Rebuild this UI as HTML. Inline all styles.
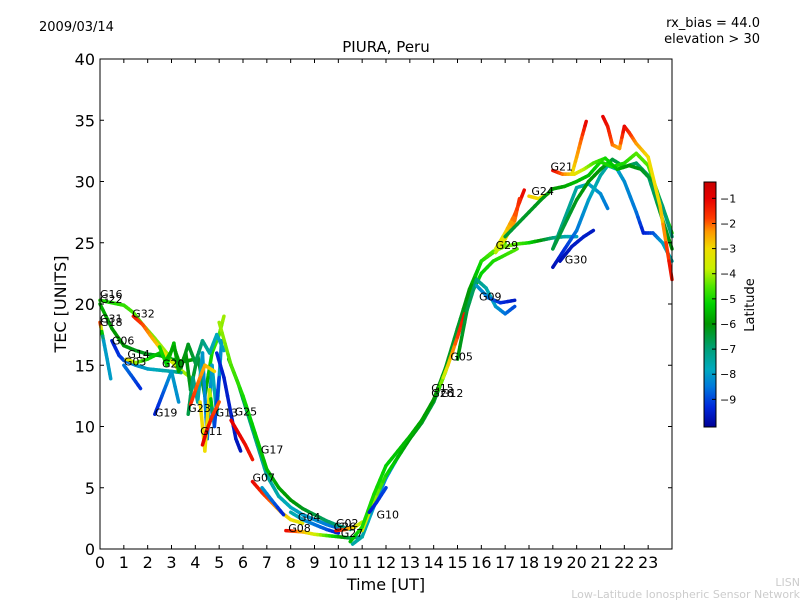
<!DOCTYPE html>
<html><head><meta charset="utf-8"><style>
body{margin:0;background:#fff;font-family:"Liberation Sans",sans-serif}
svg text{font-family:"DejaVu Sans","Liberation Sans",sans-serif}
</style></head><body>
<svg id="c" width="800" height="600" xmlns="http://www.w3.org/2000/svg">
<rect width="800" height="600" fill="#fff"/>
<g id="plot"></g>
<g id="axes"></g>
<g id="labels"></g>
<g id="cbar"></g>
<text x="39" y="31" font-size="13">2009/03/14</text>
<text x="760" y="27" font-size="13" text-anchor="end">rx_bias = 44.0</text>
<text x="760" y="43" font-size="13" text-anchor="end">elevation &gt; 30</text>
<text x="386" y="52" font-size="15" text-anchor="middle">PIURA, Peru</text>
<text x="386" y="590" font-size="16" text-anchor="middle">Time [UT]</text>
<text x="66" y="304" font-size="16" text-anchor="middle" transform="rotate(-90 66 304)">TEC [UNITS]</text>
<text x="754" y="305" font-size="13" text-anchor="middle" transform="rotate(-90 754 305)">Latitude</text>
<text x="800" y="586" font-size="11" fill="#ccc" text-anchor="end">LISN</text>
<text x="800" y="598" font-size="11" fill="#ccc" text-anchor="end">Low-Latitude Ionospheric Sensor Network</text>
</svg>
<script>
const xTicks=[0,1,2,3,4,5,6,7,8,9,10,11,12,13,14,15,16,17,18,19,20,21,22,23];
const yTicks=[0,5,10,15,20,25,30,35,40];
const cbTicks=[-1,-2,-3,-4,-5,-6,-7,-8,-9];
// tracks: time [UT], TEC, latitude
const trkG16T=[0,0.5,1,1.4,1.8,2.3,2.8,3.3];
const trkG16V=[20.3,20.1,19.9,19.3,18.3,17.2,16.0,14.6];
const trkG16L=[-5,-5,-4.8,-4.6,-4.4,-4.2,-4,-3.8];
const trkG22T=[0,0.5,1,1.5,2,2.5,3,3.5,4];
const trkG22V=[20,18,16.6,16.2,15.9,15.8,15.5,15.3,15.5];
const trkG22L=[-5.5,-6,-6,-6.2,-6.2,-6.3,-6.2,-6,-5.8];
const trkG32T=[1.4,1.8,2.2,2.6,3,3.4,3.8];
const trkG32V=[19,18.3,17.2,16.2,15.3,14.6,14];
const trkG32L=[-1.3,-1.8,-2.5,-3,-3.5,-3.9,-4.2];
const trkG31T=[0,0.15,0.3,0.45];
const trkG31V=[18.5,17,15.5,13.9];
const trkG31L=[-1,-8,-8,-8];
const trkG06T=[0.5,0.8,1,1.5,2,2.5,3,3.4];
const trkG06V=[17,15.8,15.4,15,14.7,14.6,14.5,14.4];
const trkG06L=[-9.5,-9.2,-9,-8.3,-8,-7.7,-7.5,-7.2];
const trkG03T=[1,1.3,1.7];
const trkG03V=[15,14.2,13.1];
const trkG03L=[-8.5,-8.8,-9.3];
const trkG20T=[2.8,3.1,3.4,3.7,4,4.3,4.6,4.9,5.2];
const trkG20V=[15.5,16.5,14.8,16.7,15.2,17,16,17.5,16.2];
const trkG20L=[-5.5,-5.8,-6,-6.2,-6.5,-7,-7.5,-7.8,-8];
const trkN1T=[2.5,2.8,3.1,3.3,3.6,3.8,4.1,4.4,4.7,5,5.2];
const trkN1V=[16.5,15,16.8,14.5,16,13,15.8,12.5,16,17.5,19];
const trkN1L=[-5,-5.2,-5.5,-5.8,-6,-6.2,-6.5,-6,-5,-4.5,-4];
const trkN2T=[3.7,3.9,4.1,4.3,4.5,4.7,4.9,5.1];
const trkN2V=[11,14,12,16,9,15,11,17];
const trkN2L=[-6.5,-7,-7.5,-8,-8.5,-8,-7.5,-8.3];
const trkN3T=[4.2,4.4,4.6,4.8,5];
const trkN3V=[12,8,13,10,14];
const trkN3L=[-3,-3,-3.2,-9,-9];
const trkG19T=[2.3,2.6,3,3.3];
const trkG19V=[11,12.5,14.5,12];
const trkG19L=[-9.5,-9,-8,-8.2];
const trkG23T=[3.8,4.1,4.4,4.8];
const trkG23V=[11.8,13.5,15,14.5];
const trkG23L=[-1.5,-2,-2.5,-3];
const trkG11T=[4.3,4.5,4.7,5];
const trkG11V=[8.5,9.8,10.8,12];
const trkG11L=[-1,-1,-1.5,-2];
const trkG13T=[4.9,5.2,5.5,5.7,5.9];
const trkG13V=[16,14,11,9,8];
const trkG13L=[-9.3,-9.5,-9.5,-9.6,-9.7];
const trkG25T=[5.5,5.8,6.1,6.4];
const trkG25V=[10.5,9.5,8.5,7.3];
const trkG25L=[-1,-1,-1.2,-1.3];
const trkG17T=[5,5.5,6,6.5,7,7.5,8,8.5,9,9.5,10,10.5];
const trkG17V=[18.5,15,12.5,9.5,6.5,5,4,3.3,2.8,2.3,1.9,1.6];
const trkG17L=[-4,-4.5,-5,-5.3,-5.5,-5.8,-6,-6.2,-6.5,-6.8,-7,-7.2];
const trkE1T=[5.4,5.8,6.2,6.6,7,7.5,8,8.5,9,9.5,10];
const trkE1V=[15.5,13.5,11,8.5,6,4.3,3.4,2.8,2.4,2,1.7];
const trkE1L=[-6,-6.5,-7,-7.2,-7.4,-7.6,-7.8,-8,-8.2,-8.4,-8.6];
const trkG07T=[6.4,6.8,7.2,7.6,8,8.5];
const trkG07V=[5.5,4.6,3.8,3,2.4,2.1];
const trkG07L=[-1,-1.5,-2,-2.6,-3,-3.3];
const trkB7T=[6.8,7.2,7.7];
const trkB7V=[5,4,2.8];
const trkB7L=[-8,-8.6,-9.5];
const trkG08T=[7.8,8.5,9,9.5,10,10.5,11];
const trkG08V=[1.5,1.4,1.2,1.1,1,0.9,1];
const trkG08L=[-1,-2.5,-3.5,-4.5,-5.5,-6.5,-7.5];
const trkG04T=[8,8.5,9,9.5,10];
const trkG04V=[3,2.4,2,1.6,1.3];
const trkG04L=[-7.5,-8,-8.5,-8.8,-9.5];
const trkG02T=[9.9,10.3,10.7,11];
const trkG02V=[1.5,1.6,1.8,2.2];
const trkG02L=[-1,-2,-3,-4];
const trkMainT=[10.5,11,11.5,12,12.5,13,13.5,14,14.5,15,15.5,16,16.5,17,17.5,18,18.5,19,19.5,20];
const trkMainV=[0.6,1.8,4.5,6.8,8,9.2,10.5,12.2,14.8,18,21.2,23.5,24.3,24.7,24.9,25,25.2,25.4,25.5,25.5];
const trkMainL=[-5.5,-5,-5,-5.2,-5.4,-5.6,-5.8,-6,-6.2,-6.4,-6,-5,-4.5,-4.2,-4.5,-5,-6,-7,-7.5,-8];
const trkRise2T=[10.6,11,11.5,12,12.5,13,13.5,14,14.5,15,15.5,16,16.5,17,17.5];
const trkRise2V=[0.4,1,3.5,5.8,7.5,9,10.5,12,14.5,17.5,20.5,22.5,23.5,24,24.5];
const trkRise2L=[-7.5,-7.5,-8,-8.3,-8.2,-8,-7.5,-7,-6.5,-6,-5.5,-5.2,-5,-4.8,-4.5];
const trkRise3T=[11,11.5,12,12.5,13,13.5,14,14.5,15,15.5,16,16.5,17];
const trkRise3V=[1.5,4,6,7.5,9,10.3,12,14.5,18,21,23.5,24.2,25];
const trkRise3L=[-3.5,-4,-5,-5.5,-6,-6.3,-6.5,-6.3,-6,-5.5,-5,-4.7,-4.5];
const trkG10T=[11.3,11.6,12];
const trkG10V=[3,3.8,5];
const trkG10L=[-9.5,-9.3,-9];
const trkG05T=[14.2,14.6,15,15.3];
const trkG05V=[13,15,17.3,19.2];
const trkG05L=[-5,-3,-1.8,-1.2];
const trkG09T=[15,15.4,15.8,16.2,16.6,17,17.4];
const trkG09V=[15.5,19.5,22,21.3,19.8,19.2,19.8];
const trkG09L=[-6,-6.5,-7,-7.5,-8,-8.5,-9];
const trkB9T=[15.8,16.3,16.8,17.4];
const trkB9V=[21.5,20.5,20.1,20.3];
const trkB9L=[-8,-8.5,-9.2,-9.6];
const trkG29T=[16.6,17,17.4,17.8];
const trkG29V=[24.5,25.8,27.3,29.3];
const trkG29L=[-3.5,-3,-2,-1];
const trkG29bT=[16.6,17,17.4,17.6];
const trkG29bV=[24.2,25.3,26.8,28.6];
const trkG29bL=[-4,-3.2,-2.2,-1.5];
const trkG24T=[18,18.4,18.8];
const trkG24V=[28.8,28.6,29];
const trkG24L=[-2.8,-3,-3.2];
const trkGrnT=[17,17.5,18,18.5,19,19.5,20,20.5,21,21.5,22,22.5,23,23.5,24];
const trkGrnV=[25.5,26.5,27.5,28.5,29.4,29.6,30,30.5,31.6,31.2,31.5,32.3,31.3,28.5,25.8];
const trkGrnL=[-6.5,-6.4,-6.3,-6.2,-6,-5.8,-5.5,-5.5,-5,-5,-5,-4.5,-4.5,-5,-5];
const trkGrn2T=[19,19.5,20,20.5,21,21.5,22,22.5,23,23.5,24];
const trkGrn2V=[24.5,26.5,28.5,30,31,31.8,31.2,31.5,30.5,27.5,24.5];
const trkGrn2L=[-6.5,-6.5,-6.2,-6,-6,-6.5,-6.5,-6.8,-7,-6.5,-6];
const trkG21T=[19,19.4,19.9,20.3,20.7,21.2,21.7,22.2,22.7,23.2,23.6,24];
const trkG21V=[30.9,30.6,30.6,31,31.5,31.9,31,31.3,31,30,28,25.5];
const trkG21L=[-1,-2,-3,-3.8,-4.5,-5,-5.5,-6,-6.2,-6.5,-7,-7];
const trkRedUpT=[19.8,20,20.2,20.4];
const trkRedUpV=[30.6,32,33.5,34.9];
const trkRedUpL=[-3.2,-2.5,-2,-1];
const trkTopT=[21.1,21.3,21.5,21.8,22,22.2,22.5,23,23.5,24];
const trkTopV=[35.3,34.5,33,32.7,34.5,34,33.1,32,28,22];
const trkTopL=[-1,-1.2,-2,-2.5,-1,-1.5,-2.3,-3,-3,-1];
const trkG30T=[19,19.5,20,20.5,21,21.3,21.7,22,22.5,22.8,23.2,23.6,24];
const trkG30V=[23,24.5,26,28.5,30.5,31.3,31,30,27.5,25.8,25.8,25,23.5];
const trkG30L=[-9.8,-9.3,-8.5,-8,-7.5,-7.5,-7.8,-8.2,-8.5,-9.5,-9,-8,-7.5];
const trkG30bT=[19.3,19.8,20.3,20.7];
const trkG30bV=[23.5,24.7,25.5,26];
const trkG30bL=[-9.8,-9.6,-9.5,-9.6];
const trkTealT=[19,19.5,20,20.5,21,21.3];
const trkTealV=[24.5,27,29.5,29.8,29,27.8];
const trkTealL=[-7,-7.2,-7.5,-7.8,-8.2,-8.5];
const trkG14T=[1.1,1.5,2,2.5];
const trkG14V=[15.5,15.2,15.5,16];
const trkG14L=[-3,-4,-5,-5.5];
const tracks=[
[trkG16T,trkG16V,trkG16L],[trkG22T,trkG22V,trkG22L],[trkG32T,trkG32V,trkG32L],[trkG31T,trkG31V,trkG31L],
[trkG06T,trkG06V,trkG06L],[trkG03T,trkG03V,trkG03L],[trkG14T,trkG14V,trkG14L],[trkN1T,trkN1V,trkN1L],[trkN2T,trkN2V,trkN2L],[trkN3T,trkN3V,trkN3L],[trkG20T,trkG20V,trkG20L],[trkG19T,trkG19V,trkG19L],
[trkG23T,trkG23V,trkG23L],[trkG11T,trkG11V,trkG11L],[trkG13T,trkG13V,trkG13L],[trkG25T,trkG25V,trkG25L],
[trkG08T,trkG08V,trkG08L],[trkE1T,trkE1V,trkE1L],[trkG17T,trkG17V,trkG17L],[trkG07T,trkG07V,trkG07L],[trkB7T,trkB7V,trkB7L],
[trkG04T,trkG04V,trkG04L],[trkG02T,trkG02V,trkG02L],[trkRise2T,trkRise2V,trkRise2L],[trkRise3T,trkRise3V,trkRise3L],[trkMainT,trkMainV,trkMainL],
[trkG10T,trkG10V,trkG10L],[trkG05T,trkG05V,trkG05L],[trkG09T,trkG09V,trkG09L],[trkB9T,trkB9V,trkB9L],
[trkG29T,trkG29V,trkG29L],[trkG29bT,trkG29bV,trkG29bL],[trkG24T,trkG24V,trkG24L],[trkTealT,trkTealV,trkTealL],
[trkG30T,trkG30V,trkG30L],[trkG30bT,trkG30bV,trkG30bL],[trkGrn2T,trkGrn2V,trkGrn2L],[trkGrnT,trkGrnV,trkGrnL],[trkG21T,trkG21V,trkG21L],
[trkRedUpT,trkRedUpV,trkRedUpL],[trkTopT,trkTopV,trkTopL]];
const satNames=["G16","G22","G31","G18","G32","G06","G14","G03","G20","G19","G23","G13","G25","G11","G17","G07","G08","G04","G02","G26","G27","G10","G15","G26","G12","G05","G09","G29","G24","G21","G30"];
const satT=[0,0,0,0,1.35,0.5,1.15,1.0,2.6,2.3,3.7,4.85,5.65,4.2,6.75,6.4,7.9,8.3,9.9,9.8,10.1,11.6,13.9,13.9,14.3,14.7,15.9,16.6,18.1,18.9,19.5];
const satV=[20.5,20.1,18.5,18.2,18.9,16.7,15.6,15.0,14.8,10.8,11.2,10.8,10.9,9.3,7.8,5.5,1.4,2.3,1.8,1.5,1.0,2.5,12.8,12.4,12.4,15.4,20.3,24.5,28.9,30.9,23.3];

const X0=100,X1=672,Y0=549,Y1=59;
const xs=t=>X0+t*(X1-X0)/24;
const ys=v=>Y0-v*(Y0-Y1)/40;
const NS="http://www.w3.org/2000/svg";
function mk(tag,attrs,parent){const e=document.createElementNS(NS,tag);for(const k in attrs)e.setAttribute(k,attrs[k]);parent.appendChild(e);return e;}
const stops=[[-0.35,[200,0,0]],[-1,[230,0,0]],[-1.8,[255,60,0]],[-2.3,[255,150,0]],[-3,[240,220,0]],[-3.8,[200,240,0]],[-4.5,[80,230,0]],[-5.2,[0,210,0]],[-6,[0,150,0]],[-7,[0,160,120]],[-7.8,[0,170,190]],[-8.5,[0,120,220]],[-9.3,[0,40,220]],[-10.1,[0,0,150]]];
function col(l){
  if(l>=stops[0][0])return `rgb(${stops[0][1]})`;
  for(let i=0;i<stops.length-1;i++){const a=stops[i],b=stops[i+1];if(l<=a[0]&&l>=b[0]){const f=(a[0]-l)/(a[0]-b[0]);const c=a[1].map((v,j)=>Math.round(v+(b[1][j]-v)*f));return `rgb(${c})`;}}
  return `rgb(${stops[stops.length-1][1]})`;
}
const plot=document.getElementById('plot');
tracks.forEach((tr,k)=>{
  const g=mk('g',{},plot);
  
  
  const [T,V,L]=tr;
  for(let i=0;i<T.length-1;i++){
    const n=4;
    for(let s=0;s<n;s++){
      const f0=s/n,f1=(s+1)/n;
      const l=L[i]+(L[i+1]-L[i])*(s+0.5)/n;
      const ln=mk('line',{x1:xs(T[i]+(T[i+1]-T[i])*f0),y1:ys(V[i]+(V[i+1]-V[i])*f0),x2:xs(T[i]+(T[i+1]-T[i])*f1),y2:ys(V[i]+(V[i+1]-V[i])*f1),stroke:col(l),'stroke-width':3.5,'stroke-linecap':'round'},g);
      
      
    }
  }
});
const labels=document.getElementById('labels');
satNames.forEach((n,i)=>{
  const t=mk('text',{x:xs(satT[i]),y:ys(satV[i]),'font-size':11},labels);
  t.textContent=n;
  
  
});
const axes=document.getElementById('axes');
const fr=mk('rect',{x:X0,y:Y1,width:X1-X0,height:Y0-Y1,fill:'none',stroke:'#000','stroke-width':1},axes);


xTicks.forEach(t=>{
  const x=xs(t);
  mk('line',{x1:x,y1:Y0,x2:x,y2:Y0-4,stroke:'#000'},axes);
  mk('line',{x1:x,y1:Y1,x2:x,y2:Y1+4,stroke:'#000'},axes);
  const tx=mk('text',{x:x,y:568,'font-size':16,'text-anchor':'middle'},axes);
  tx.textContent=t;
  
  
});
yTicks.forEach(v=>{
  const y=ys(v);
  mk('line',{x1:X0,y1:y,x2:X0+4,y2:y,stroke:'#000'},axes);
  mk('line',{x1:X1,y1:y,x2:X1-4,y2:y,stroke:'#000'},axes);
  const tx=mk('text',{x:95,y:y+6,'font-size':16,'text-anchor':'end'},axes);
  tx.textContent=v;
  
  
});
const cb=document.getElementById('cbar');
const CB0=182,CB1=427,LTOP=-0.35,LBOT=-10.1;
const cy=l=>CB0+(LTOP-l)*(CB1-CB0)/(LTOP-LBOT);
for(let y=CB0;y<CB1;y++){
  const l=LTOP-(y+0.5-CB0)*(LTOP-LBOT)/(CB1-CB0);
  mk('rect',{x:704,y:y,width:12,height:1.2,fill:col(l)},cb);
}
const cbf=mk('rect',{x:704,y:CB0,width:12,height:CB1-CB0,fill:'none',stroke:'#000'},cb);


cbTicks.forEach(l=>{
  const y=cy(l);
  mk('line',{x1:716,y1:y,x2:712,y2:y,stroke:'#000'},cb);
  const tx=mk('text',{x:720,y:y+4,'font-size':11},cb);
  tx.textContent='\u2212'+(-l);
  
  
});
</script>
</body></html>
